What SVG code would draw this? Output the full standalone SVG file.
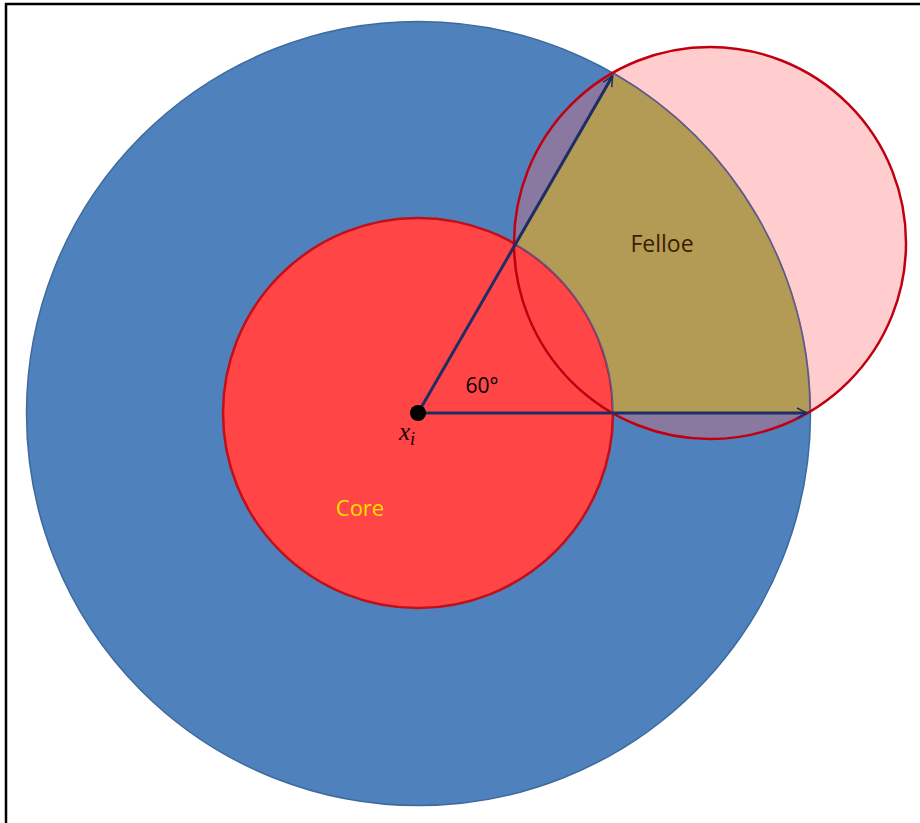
<svg xmlns="http://www.w3.org/2000/svg" width="920" height="823" viewBox="0 0 920 823">
<defs>
<style>
.lbl{font-family:"Open Sans","Liberation Sans",sans-serif}
.arrow{stroke:#1F2D66;stroke-width:3;fill:none}
</style>
<marker id="ah" viewBox="0 0 12 12" refX="11" refY="6" markerWidth="4" markerHeight="4" orient="auto" markerUnits="strokeWidth">
<path d="M1,1 L11,6 L1,11" fill="none" stroke="#1F2D66" stroke-width="1.5"/>
</marker>
</defs>
<rect x="0" y="0" width="920" height="823" fill="#FFFFFF"/>
<path d="M6,823 V4 H920" fill="none" stroke="#000000" stroke-width="2.5"/>
<g id="outer">
<circle cx="418.5" cy="413.5" r="392" fill="#4F81BD" stroke="#3D6A9E" stroke-width="1.5"/>
</g>
<g id="pink">
<circle cx="710" cy="243" r="196" fill="#FF6666" fill-opacity="0.33"/>
</g>
<g id="core">
<circle cx="418" cy="413" r="195" fill="#FF4545" stroke="#C0101A" stroke-width="2.5"/>
<text class="lbl" x="360" y="516" font-size="22" fill="#FFE000" text-anchor="middle">Core</text>
</g>
<g id="felloe">
<path d="M613,413 L810,413 A392,392 0 0 0 614,73.5 L515.5,244.1 A195,195 0 0 1 613,413 Z" fill="#B39B55" stroke="#5E5A8C" stroke-width="1.5"/>
<text class="lbl" x="662" y="252" font-size="23" fill="#3A1E00" text-anchor="middle">Felloe</text>
</g>
<g id="pink-outline">
<circle cx="710" cy="243" r="196" fill="none" stroke="#C00010" stroke-width="2.5"/>
</g>
<g id="connectors">
<line class="arrow" x1="418" y1="413" x2="612.5" y2="76" marker-end="url(#ah)"/>
<line class="arrow" x1="418" y1="413" x2="807" y2="413" marker-end="url(#ah)"/>
</g>
<g id="center">
<circle cx="418" cy="413" r="8" fill="#000000"/>
<text x="399" y="440" font-family="Liberation Serif,serif" font-style="italic" font-size="25" fill="#200000">x<tspan font-size="18" dy="5">i</tspan></text>
</g>
<g id="angle">
<text class="lbl" x="482" y="393" font-size="21" fill="#000000" text-anchor="middle">60°</text>
</g>
</svg>
